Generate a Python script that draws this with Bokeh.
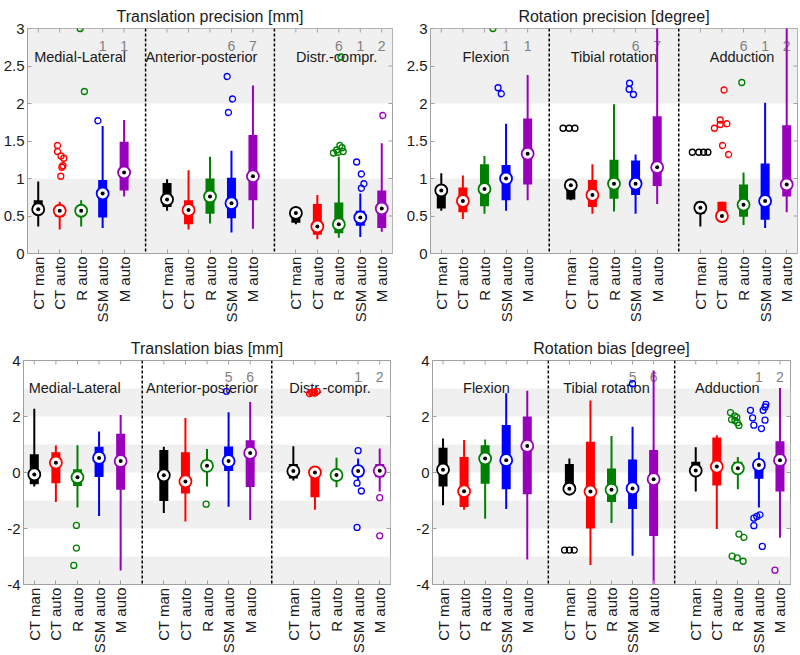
import math
from bokeh.plotting import figure
from bokeh.models import Range1d, FixedTicker, BoxAnnotation, Span
from bokeh.layouts import column, row
from bokeh.embed import file_html
from bokeh.resources import INLINE
from bokeh.core.properties import value

FONT = "Liberation Sans"
methods = ["CT man", "CT auto", "R auto", "SSM auto", "M auto"]
colors = ["#000000", "#ff0000", "#008000", "#0000ff", "#9900bb"]
positions = [1, 2, 3, 4, 5, 7, 8, 9, 10, 11, 13, 14, 15, 16, 17]
separators = [6, 12]
X_RANGE = (0.5, 17.5)

# ---------------- Translation precision [mm] ----------------
TP_groups = ["Medial-Lateral", "Anterior-posterior", "Distr.-compr."]
TP_group_x = [2.95, 8.6, 14.9]
TP_lo  = [0.36, 0.32, 0.36, 0.34, 0.76, 0.57, 0.32, 0.40, 0.28, 0.33, 0.39, 0.19, 0.21, 0.22, 0.29]
TP_q1  = [0.55, 0.49, 0.52, 0.48, 0.84, 0.62, 0.39, 0.53, 0.47, 0.71, 0.41, 0.25, 0.27, 0.37, 0.34]
TP_med = [0.59, 0.57, 0.57, 0.80, 1.08, 0.72, 0.58, 0.76, 0.67, 1.03, 0.54, 0.36, 0.39, 0.48, 0.60]
TP_q3  = [0.71, 0.61, 0.61, 0.98, 1.49, 0.94, 0.71, 1.00, 1.01, 1.58, 0.56, 0.66, 0.68, 0.57, 0.84]
TP_hi  = [0.96, 0.69, 0.71, 1.70, 1.78, 0.99, 1.11, 1.29, 1.37, 2.24, 0.57, 0.78, 1.29, 0.80, 1.47]
TP_out_box = [1, 1, 1, 1, 1, 1, 1, 2, 2, 3, 8, 8, 8, 12, 12, 12, 12, 12, 12, 12, 13, 13, 13, 13, 14]
TP_out_val = [1.44, 1.36, 1.30, 1.27, 1.17, 1.15, 1.03, 3.0, 2.16, 1.77, 2.36, 2.06, 1.88,
              2.62, 1.44, 1.41, 1.38, 1.36, 1.35, 1.34, 1.22, 1.06, 0.93, 0.87, 1.84]
TP_out_dx  = [-0.1, -0.1, 0.06, 0.19, 0.15, 0.1, 0.05, -0.05, 0.15, -0.22, -0.2, 0.05, -0.14,
              0.1, 0.05, 0.15, -0.1, 0.2, -0.05, -0.25, -0.17, 0.05, 0.17, 0.05, 0.05]
TP_cnt_box = [3, 4, 8, 9, 12, 13, 14]
TP_cnt     = ["1", "1", "6", "7", "6", "1", "2"]

# ---------------- Rotation precision [degree] ----------------
RP_groups = ["Flexion", "Tibial rotation", "Adduction"]
RP_group_x = [3.07, 9.0, 14.93]
RP_lo  = [0.57, 0.46, 0.53, 0.57, 0.71, 0.71, 0.53, 0.56, 0.53, 0.66, 0.36, 0.41, 0.38, 0.34, 0.55]
RP_q1  = [0.60, 0.55, 0.63, 0.71, 0.92, 0.72, 0.62, 0.73, 0.78, 0.90, 0.53, 0.45, 0.49, 0.45, 0.76]
RP_med = [0.84, 0.70, 0.86, 1.00, 1.33, 0.91, 0.78, 0.93, 0.93, 1.15, 0.61, 0.50, 0.65, 0.70, 0.92]
RP_q3  = [0.84, 0.88, 1.19, 1.18, 1.80, 0.91, 0.98, 1.25, 1.24, 1.83, 0.69, 0.69, 0.92, 1.20, 1.71]
RP_hi  = [1.07, 1.04, 1.30, 1.73, 2.38, 0.98, 1.19, 1.99, 1.32, 3.10, 0.69, 0.69, 1.08, 2.01, 3.10]
RP_out_box = [2, 3, 3, 5, 5, 5, 8, 8, 8, 10, 10, 10, 10, 11, 11, 11, 11, 11, 11, 11, 12]
RP_out_val = [3.0, 2.21, 2.13, 1.67, 1.67, 1.67, 2.27, 2.19, 2.12, 1.35, 1.35, 1.35, 1.35,
              2.18, 1.78, 1.72, 1.73, 1.67, 1.44, 1.32, 2.28]
RP_out_dx  = [0.39, -0.37, -0.22, -0.36, -0.08, 0.19, -0.28, -0.3, -0.1, -0.37, -0.07, 0.15, 0.35,
              0.1, -0.08, -0.08, 0.23, -0.35, 0.03, 0.31, -0.08]
RP_cnt_box = [3, 4, 8, 9, 12, 13, 14]
RP_cnt     = ["1", "1", "6", "7", "6", "1", "2"]

# ---------------- Translation bias [mm] ----------------
TB_groups = ["Medial-Lateral", "Anterior-posterior", "Distr.-compr."]
TB_group_x = [2.87, 8.77, 14.7]
TB_lo  = [-0.50, -1.05, -1.25, -1.55, -3.50, -1.45, -1.75, -0.50, -1.22, -1.70, -0.29, -1.33, -0.53, -0.30, -0.68]
TB_q1  = [-0.42, -0.38, -0.48, -0.16, -0.62, -1.02, -0.75, 0.05, 0.05, -0.52, -0.21, -0.88, -0.15, -0.15, -0.17]
TB_med = [-0.07, 0.35, -0.17, 0.52, 0.41, -0.10, -0.32, 0.24, 0.41, 0.70, 0.05, 0.00, -0.09, 0.05, 0.06]
TB_q3  = [0.65, 0.72, 0.12, 0.92, 1.38, 0.80, 0.72, 0.45, 0.93, 1.15, 0.30, 0.00, 0.05, 0.23, 0.30]
TB_hi  = [2.28, 0.96, 0.97, 1.46, 2.05, 0.92, 1.95, 0.84, 2.15, 2.52, 0.94, 0.02, 0.53, 0.50, 0.86]
TB_out_box = [2, 2, 2, 7, 8, 11, 11, 11, 11, 11, 11, 13, 13, 13, 13, 14, 14]
TB_out_val = [-1.89, -2.70, -3.32, -1.13, 2.90, 2.82, 2.86, 2.88, 2.84, 2.90, 2.85,
              0.78, -0.38, -0.66, -1.96, -0.90, -2.26]
TB_out_dx  = [-0.05, -0.05, -0.17, -0.04, -0.1, -0.25, -0.15, -0.05, 0.0, 0.1, -0.1,
              0.0, -0.05, 0.15, -0.05, 0.0, 0.0]
TB_cnt_box = [8, 9, 13, 14]
TB_cnt     = ["5", "6", "1", "2"]

# ---------------- Rotation bias [degree] ----------------
RB_groups = ["Flexion", "Tibial rotation", "Adduction"]
RB_group_x = [3.06, 8.76, 14.5]
RB_lo  = [-1.17, -1.33, -1.65, -1.30, -3.11, -0.60, -3.30, -1.80, -2.97, -4.20, -0.68, -2.02, -0.60, -1.25, -2.33]
RB_q1  = [-0.50, -1.23, -0.40, -0.60, -0.78, -0.52, -2.00, -1.05, -1.30, -2.27, 0.02, -0.46, 0.00, -0.22, -0.68]
RB_med = [0.10, -0.67, 0.50, 0.44, 0.95, -0.58, -0.68, -0.62, -0.57, -0.24, 0.07, 0.21, 0.15, 0.27, 0.44]
RB_q3  = [0.88, 0.55, 0.97, 1.70, 2.00, 0.30, 1.10, 0.14, 0.46, 0.80, 0.38, 1.25, 0.38, 0.44, 1.12]
RB_hi  = [1.21, 1.16, 1.18, 2.83, 2.92, 0.50, 2.57, 1.30, 1.63, 3.64, 0.90, 1.33, 0.55, 0.72, 3.02]
RB_out_box = [5, 5, 5, 8,
              12, 12, 12, 12, 12, 12, 12, 12, 12, 12, 12, 12,
              13, 13, 13, 13, 13, 13, 13, 13, 13, 13, 13, 13, 13, 14]
RB_out_val = [-2.77, -2.77, -2.77, 3.17,
              2.14, 2.02, 1.97, 1.89, 1.86, 1.78, 1.68, -2.20, -2.32, -2.99, -3.05, -3.17,
              2.22, 1.95, 1.69, 1.57, 2.22, 2.34, 2.43, 1.87, -1.51, -1.57, -1.63, -1.90, -2.64, -3.49]
RB_out_dx  = [-0.23, 0.0, 0.23, 0.0,
              -0.35, -0.15, -0.05, -0.3, -0.14, -0.02, 0.05, 0.05, 0.29, -0.27, -0.03, 0.25,
              -0.4, -0.3, -0.24, 0.12, 0.2, 0.29, 0.33, 0.29, 0.05, -0.1, -0.24, -0.24, 0.16, -0.24]
RB_cnt_box = [8, 9, 13, 14]
RB_cnt     = ["5", "6", "1", "2"]

# axis settings
P_yrange = (0, 3)
P_yticks = [0, 0.5, 1, 1.5, 2, 2.5, 3]
P_ylabels = ["0", "0.5", "1", "1.5", "2", "2.5", "3"]
P_bands = [(0, 1), (2, 3)]
B_yrange = (-4, 4)
B_yticks = [-4, -2, 0, 2, 4]
B_ylabels = ["-4", "-2", "0", "2", "4"]
B_bands = [(-4, -3), (-2, -1), (0, 1), (2, 3)]

GRAY = "#a0a0a0"
TXT = "#1a1a1a"


def panel(title, lo, q1, med, q3, hi, ob, ov, od, cb, cn, groups, gx, gy, cy,
          yr, yticks, ylabels, bands, mbl, mbr, mbt, mbb, fw, fh):
    p = figure(x_range=Range1d(*X_RANGE), y_range=Range1d(*yr),
               frame_width=fw, frame_height=fh,
               min_border_left=mbl, min_border_right=mbr,
               min_border_top=mbt, min_border_bottom=mbb,
               toolbar_location=None, output_backend="svg", title=title)
    p.title.align = "center"
    p.title.text_font = FONT
    p.title.text_font_size = "16px"
    p.title.text_font_style = "normal"
    p.title.text_color = TXT
    p.title.standoff = 7
    p.xgrid.visible = False
    p.ygrid.visible = False
    p.outline_line_color = GRAY
    p.outline_line_width = 1
    p.background_fill_color = "white"
    p.border_fill_color = "white"

    for b, t in bands:
        p.add_layout(BoxAnnotation(bottom=b, top=t, fill_color="#f0f0f0", fill_alpha=1.0,
                                   line_color=None, level="underlay"))
    for s in separators:
        p.add_layout(Span(location=s, dimension="height", line_color="black",
                          line_width=1.5, line_dash="3 2"))

    xa = p.xaxis[0]
    xa.ticker = FixedTicker(ticks=positions)
    xa.major_label_overrides = {pos: methods[i % 5] for i, pos in enumerate(positions)}
    xa.major_label_orientation = math.pi / 2
    ya = p.yaxis[0]
    ya.ticker = FixedTicker(ticks=yticks)
    ya.major_label_overrides = {t: l for t, l in zip(yticks, ylabels)}
    for ax in (xa, ya):
        ax.major_label_text_font = FONT
        ax.major_label_text_font_size = "15px"
        ax.major_label_text_color = TXT
        ax.major_label_standoff = 3
        ax.major_tick_in = 4
        ax.major_tick_out = 0
        ax.minor_tick_line_color = None
        ax.major_tick_line_color = GRAY
        ax.axis_line_color = GRAY

    # inward ticks on the right and top frame edges (half of each dash is clipped by the frame)
    p.scatter(x=[X_RANGE[1]] * len(yticks), y=yticks, marker="dash", size=8,
              line_color=GRAY, line_width=1)
    p.scatter(x=positions, y=[yr[1]] * len(positions), marker="dash", angle=math.pi / 2,
              size=8, line_color=GRAY, line_width=1)

    # text annotations
    p.text(x=gx, y=[gy] * len(gx), text=groups, text_align="center", text_baseline="alphabetic",
           text_font=value(FONT), text_font_size="14.5px", text_color=TXT)
    p.text(x=[positions[i] for i in cb], y=[cy] * len(cb), text=cn, text_align="center",
           text_baseline="alphabetic", text_font=value(FONT), text_font_size="14px",
           text_color="#808080")

    cols = [colors[i % 5] for i in range(len(positions))]
    p.segment(x0=positions, y0=lo, x1=positions, y1=hi, line_color=cols, line_width=2)
    p.segment(x0=positions, y0=q1, x1=positions, y1=q3, line_color=cols, line_width=9)
    p.scatter(x=[positions[b] + d for b, d in zip(ob, od)], y=ov, marker="circle", size=6,
              fill_color=None, line_color=[colors[b % 5] for b in ob], line_width=1.3)
    p.scatter(x=positions, y=med, marker="circle", size=12, fill_color="white",
              line_color=cols, line_width=1.8)
    p.scatter(x=positions, y=med, marker="circle", size=4, fill_color="black", line_color=None)
    return p


p1 = panel("Translation precision [mm]", TP_lo, TP_q1, TP_med, TP_q3, TP_hi,
           TP_out_box, TP_out_val, TP_out_dx, TP_cnt_box, TP_cnt, TP_groups, TP_group_x, 2.62, 2.77,
           P_yrange, P_yticks, P_ylabels, P_bands, 27, 8, 28, 77, 365, 225)
p2 = panel("Rotation precision [degree]", RP_lo, RP_q1, RP_med, RP_q3, RP_hi,
           RP_out_box, RP_out_val, RP_out_dx, RP_cnt_box, RP_cnt, RP_groups, RP_group_x, 2.62, 2.77,
           P_yrange, P_yticks, P_ylabels, P_bands, 30, 3, 28, 77, 367, 225)
p3 = panel("Translation bias [mm]", TB_lo, TB_q1, TB_med, TB_q3, TB_hi,
           TB_out_box, TB_out_val, TB_out_dx, TB_cnt_box, TB_cnt, TB_groups, TB_group_x, 3.03, 3.4,
           B_yrange, B_yticks, B_ylabels, B_bands, 23, 10, 30, 71, 367, 224)
p4 = panel("Rotation bias [degree]", RB_lo, RB_q1, RB_med, RB_q3, RB_hi,
           RB_out_box, RB_out_val, RB_out_dx, RB_cnt_box, RB_cnt, RB_groups, RB_group_x, 3.03, 3.4,
           B_yrange, B_yticks, B_ylabels, B_bands, 32, 10, 30, 71, 358, 224)

layout = column(row(p1, p2), row(p3, p4))
open("out.html", "w").write(file_html(layout, INLINE))
